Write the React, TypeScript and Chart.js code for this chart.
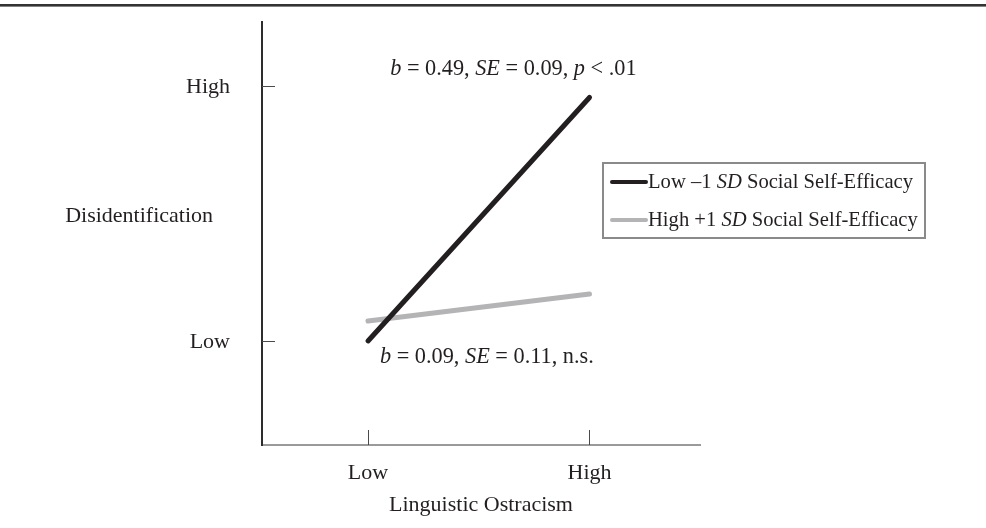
import React, { useEffect, useRef } from 'react';
import { Chart, registerables } from 'chart.js';

Chart.register(...registerables);

// ---- data ----
const xCategories = ['Low', 'High'];
const xValues = [0, 1];
const yTickLabels = ['Low', 'High'];
const yTickValues = [0, 1];
const lowSelfEfficacy = [0.0, 0.955];
const highSelfEfficacy = [0.078, 0.184];
const seriesLabels = ['Low –1 *SD* Social Self-Efficacy', 'High +1 *SD* Social Self-Efficacy'];
const seriesColors = ['#231f20', '#b4b4b6'];
const annotationTexts = ['*b* = 0.49, *SE* = 0.09, *p* < .01', '*b* = 0.09, *SE* = 0.11, n.s.'];
const xTitle = 'Linguistic Ostracism';
const yTitle = 'Disidentification';

const FONT = '"Liberation Serif", "Times New Roman", serif';
const FS = 22;
const ANN_FS = 22.3;
const LEG_FS = 20.6;
const TEXT = '#231f20';

function segs(s: string) {
  const parts = s.split('*');
  return parts.map((t, i) => ({ t, it: i % 2 === 1 })).filter((p) => p.t.length > 0);
}

function drawRich(ctx: CanvasRenderingContext2D, s: string, x: number, y: number, size: number) {
  let cx = x;
  for (const p of segs(s)) {
    ctx.font = `${p.it ? 'italic ' : ''}${size}px ${FONT}`;
    ctx.fillText(p.t, cx, y);
    cx += ctx.measureText(p.t).width;
  }
}

const decor = {
  id: 'decor',
  beforeDraw(chart: any) {
    const { ctx, width, height } = chart;
    ctx.save();
    ctx.fillStyle = '#ffffff';
    ctx.fillRect(0, 0, width, height);
    ctx.restore();
  },
  afterDraw(chart: any) {
    const { ctx } = chart;
    const xs = chart.scales.x;
    const ys = chart.scales.y;
    const area = chart.chartArea;
    ctx.save();
    // top rule
    ctx.fillStyle = '#333333';
    ctx.fillRect(0, 4, chart.width, 2.6);
    // inward ticks
    ctx.strokeStyle = '#4a4a4a';
    ctx.lineWidth = 1;
    for (const v of yTickValues) {
      const py = Math.round(ys.getPixelForValue(v)) + 0.5;
      ctx.beginPath();
      ctx.moveTo(area.left, py);
      ctx.lineTo(area.left + 13, py);
      ctx.stroke();
    }
    for (const v of xValues) {
      const px = Math.round(xs.getPixelForValue(v)) + 0.5;
      ctx.beginPath();
      ctx.moveTo(px, area.bottom);
      ctx.lineTo(px, area.bottom - 15);
      ctx.stroke();
    }
    // y title (horizontal)
    ctx.fillStyle = TEXT;
    ctx.font = `${FS}px ${FONT}`;
    ctx.textAlign = 'right';
    ctx.textBaseline = 'middle';
    ctx.fillText(yTitle, 213, ys.getPixelForValue(0.49));
    // annotations
    ctx.textAlign = 'left';
    ctx.textBaseline = 'alphabetic';
    drawRich(ctx, annotationTexts[0], xs.getPixelForValue(0.1), ys.getPixelForValue(1.043), ANN_FS);
    drawRich(ctx, annotationTexts[1], xs.getPixelForValue(0.054), ys.getPixelForValue(-0.088), ANN_FS);
    // legend
    const lx = 603, ly = 163, lw = 322, lh = 75;
    ctx.strokeStyle = '#8a8a8a';
    ctx.lineWidth = 2;
    ctx.strokeRect(lx, ly, lw, lh);
    const rows = [182, 220];
    chart.data.datasets.forEach((ds: any, i: number) => {
      ctx.strokeStyle = ds.borderColor;
      ctx.lineWidth = 4;
      ctx.lineCap = 'round';
      ctx.beginPath();
      ctx.moveTo(612, rows[i]);
      ctx.lineTo(646, rows[i]);
      ctx.stroke();
      ctx.fillStyle = TEXT;
      ctx.textBaseline = 'middle';
      drawRich(ctx, ds.label, 648, rows[i] + 1, LEG_FS);
    });
    ctx.restore();
  },
};

export default function App() {
  const ref = useRef<HTMLCanvasElement | null>(null);
  useEffect(() => {
    if (!ref.current) return;
    const chart = new Chart(ref.current, {
      type: 'line',
      data: {
        datasets: [
          {
            label: seriesLabels[0],
            data: xValues.map((x, i) => ({ x, y: lowSelfEfficacy[i] })),
            borderColor: seriesColors[0],
            backgroundColor: seriesColors[0],
            borderWidth: 5,
            borderCapStyle: 'round',
            pointRadius: 0,
            tension: 0,
          },
          {
            label: seriesLabels[1],
            data: xValues.map((x, i) => ({ x, y: highSelfEfficacy[i] })),
            borderColor: seriesColors[1],
            backgroundColor: seriesColors[1],
            borderWidth: 5,
            borderCapStyle: 'round',
            pointRadius: 0,
            tension: 0,
          },
        ],
      },
      plugins: [decor],
      options: {
        animation: false,
        responsive: true,
        maintainAspectRatio: false,
        layout: { padding: { top: 22, right: 286, left: 0, bottom: 0 } },
        plugins: { legend: { display: false }, tooltip: { enabled: false } },
        scales: {
          x: {
            type: 'linear',
            min: -0.4786,
            max: 1.4989,
            afterBuildTicks: (s: any) => {
              s.ticks = xValues.map((v) => ({ value: v }));
            },
            afterFit: (s: any) => {
              s.height = 83;
              s.paddingLeft = 0;
              s.paddingRight = 0;
            },
            ticks: {
              callback: (v: any) => xCategories[xValues.indexOf(Number(v))] ?? '',
              font: { family: FONT, size: FS },
              color: TEXT,
              padding: 15,
              maxRotation: 0,
              autoSkip: false,
            },
            grid: { display: false, drawTicks: false },
            border: { display: true, color: '#9a9a9a', width: 2 },
            title: {
              display: true,
              text: xTitle,
              font: { family: FONT, size: FS },
              color: TEXT,
              padding: { top: 0, bottom: 10 },
            },
          },
          y: {
            type: 'linear',
            min: -0.408,
            max: 1.251,
            afterBuildTicks: (s: any) => {
              s.ticks = yTickValues.map((v) => ({ value: v }));
            },
            afterFit: (s: any) => {
              s.width = 262;
              s.paddingTop = 0;
              s.paddingBottom = 0;
            },
            ticks: {
              callback: (v: any) => yTickLabels[yTickValues.indexOf(Number(v))] ?? '',
              font: { family: FONT, size: FS },
              color: TEXT,
              padding: 32,
              labelOffset: 1,
              autoSkip: false,
            },
            grid: { display: false, drawTicks: false },
            border: { display: true, color: '#2d2d2d', width: 2 },
          },
        },
      },
    } as any);
    return () => chart.destroy();
  }, []);
  return (
    <div style={{ position: 'absolute', left: 0, top: 0, width: 986, height: 528 }}>
      <canvas ref={ref} />
    </div>
  );
}
